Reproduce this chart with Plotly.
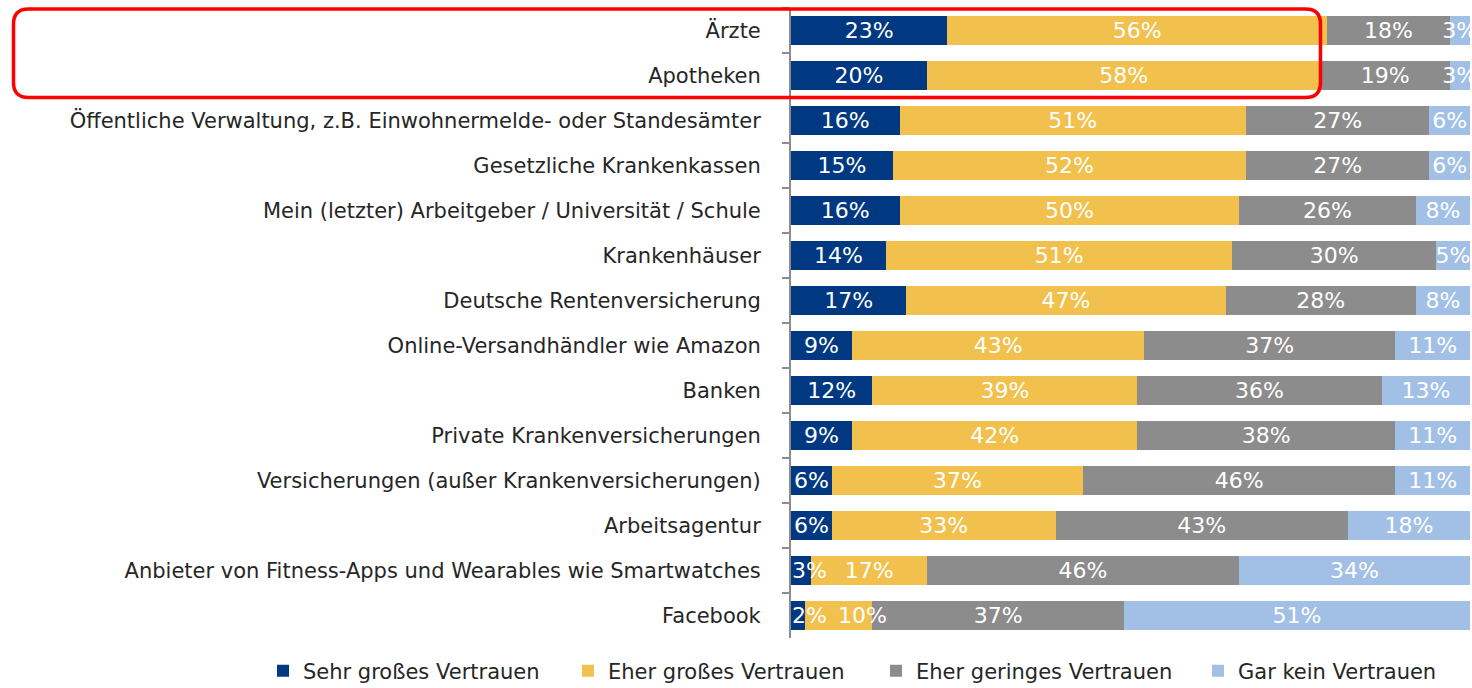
import plotly.graph_objects as go

categories = [
    "Ärzte",
    "Apotheken",
    "Öffentliche Verwaltung, z.B. Einwohnermelde- oder Standesämter",
    "Gesetzliche Krankenkassen",
    "Mein (letzter) Arbeitgeber / Universität / Schule",
    "Krankenhäuser",
    "Deutsche Rentenversicherung",
    "Online-Versandhändler wie Amazon",
    "Banken",
    "Private Krankenversicherungen",
    "Versicherungen (außer Krankenversicherungen)",
    "Arbeitsagentur",
    "Anbieter von Fitness-Apps und Wearables wie Smartwatches",
    "Facebook",
]

sehr_gross = [23, 20, 16, 15, 16, 14, 17, 9, 12, 9, 6, 6, 3, 2]
eher_gross = [56, 58, 51, 52, 50, 51, 47, 43, 39, 42, 37, 33, 17, 10]
eher_gering = [18, 19, 27, 27, 26, 30, 28, 37, 36, 38, 46, 43, 46, 37]
gar_kein = [3, 3, 6, 6, 8, 5, 8, 11, 13, 11, 11, 18, 34, 51]

series_names = ["Sehr großes Vertrauen", "Eher großes Vertrauen",
                "Eher geringes Vertrauen", "Gar kein Vertrauen"]
series_values = [sehr_gross, eher_gross, eher_gering, gar_kein]
colors = ["#003882", "#F2C04C", "#8C8C8C", "#A2C0E6"]
legend_widths = [260, 263, 277, 210]

W, H = 1472, 688
ML, MR, MT, MB = 791, 2, 8, 50
PW = W - ML - MR
PH = H - MT - MB

FONT = "DejaVu Sans"

fig = go.Figure()

# small labels handled separately (overflowing the bar edge)
special = {(0, 12), (0, 13), (1, 13)}

for si, (name, vals, col) in enumerate(zip(series_names, series_values, colors)):
    texts = []
    for ci, v in enumerate(vals):
        texts.append("" if (si, ci) in special else f"{v}%")
    fig.add_trace(go.Bar(
        y=categories, x=vals, name=name, orientation="h",
        marker=dict(color=col, line=dict(width=0)),
        text=texts, textposition="inside", insidetextanchor="middle",
        textangle=0, constraintext="none",
        textfont=dict(family=FONT, size=22, color="white"),
        legendwidth=legend_widths[si],
        hoverinfo="skip",
    ))

annotations = []
for (si, ci) in sorted(special):
    v = series_values[si][ci]
    if si == 0:
        annotations.append(dict(x=0, y=categories[ci], xref="x", yref="y",
                                text=f"{v}%", showarrow=False, xanchor="left",
                                xshift=-1,
                                font=dict(family=FONT, size=22, color="white")))
    else:
        start = series_values[0][ci]
        annotations.append(dict(x=start + v / 2, y=categories[ci], xref="x", yref="y",
                                text=f"{v}%", showarrow=False, xanchor="center",
                                xshift=24,
                                font=dict(family=FONT, size=22, color="white")))


def px_x(p):
    return (p - ML) / PW


def px_y(p):
    return (H - MB - p) / PH


# rounded red rectangle around first two rows (pixel geometry)
x0, x1, y0, y1, r = 13.5, 1320.5, 9.0, 97.5, 15
pts = [
    ("M", (x0 + r, y0)), ("L", (x1 - r, y0)), ("Q", (x1, y0), (x1, y0 + r)),
    ("L", (x1, y1 - r)), ("Q", (x1, y1), (x1 - r, y1)),
    ("L", (x0 + r, y1)), ("Q", (x0, y1), (x0, y1 - r)),
    ("L", (x0, y0 + r)), ("Q", (x0, y0), (x0 + r, y0)),
]
path = ""
for item in pts:
    cmd = item[0]
    coords = " ".join(f"{px_x(p[0]):.5f},{px_y(p[1]):.5f}" for p in item[1:])
    path += f"{cmd}{coords} "
path += "Z"

fig.update_layout(
    width=W, height=H,
    margin=dict(l=ML, r=MR, t=MT, b=MB, pad=0, autoexpand=False),
    barmode="stack", bargap=0.36,
    plot_bgcolor="white", paper_bgcolor="white",
    font=dict(family=FONT, size=21, color="#262626"),
    xaxis=dict(range=[0, 100], visible=False, fixedrange=True),
    yaxis=dict(autorange="reversed", showline=True, linecolor="#8C8C8C", linewidth=2,
               ticks="outside", ticklen=7, tickwidth=2, tickcolor="#8C8C8C",
               tickson="boundaries", ticklabelstandoff=24, automargin=False,
               tickfont=dict(family=FONT, size=21, color="#262626"),
               showgrid=False, zeroline=False, fixedrange=True),
    legend=dict(orientation="h", x=px_x(263), y=px_y(671), xanchor="left",
                yanchor="middle", font=dict(family=FONT, size=21, color="#262626"),
                borderwidth=0, bgcolor="rgba(0,0,0,0)", traceorder="normal"),
    showlegend=True,
    annotations=annotations,
    shapes=[dict(type="path", path=path, xref="paper", yref="paper",
                 line=dict(color="#FF0000", width=3.5), fillcolor="rgba(0,0,0,0)",
                 layer="above")],
)

fig.write_html("out.html", config={"displayModeBar": False},
               post_script="document.body.style.margin='0px';document.body.style.overflow='hidden';")
